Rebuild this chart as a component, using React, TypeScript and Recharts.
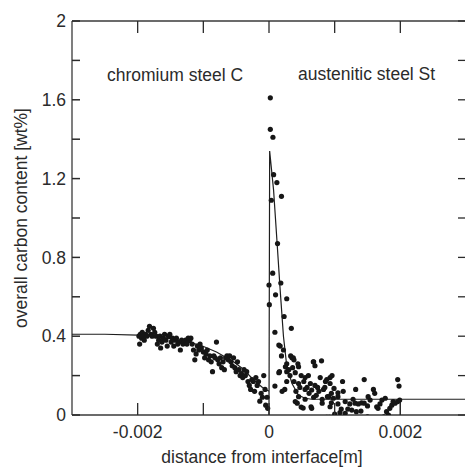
import { ScatterChart, Scatter, XAxis, YAxis, Customized } from "recharts";

const MM = 0.001;
const FONT = "'Liberation Sans', Arial, Helvetica, sans-serif";
const INK = "#2b2b2b";

const xTicks = [-0.002, -0.001, 0, 0.001, 0.002];
const xLabelled = [-0.002, 0, 0.002];
const yTicks = [0, 0.2, 0.4, 0.6, 0.8, 1, 1.2, 1.4, 1.6, 1.8, 2];
const yLabelled = [0, 0.4, 0.8, 1.2, 1.6, 2];

// measured points: distance from interface [mm], carbon [wt%]
const chromiumSide: [number, number][] = [
  [-1.98, 0.4], [-1.97, 0.36], [-1.96, 0.41], [-1.94, 0.39], [-1.93, 0.42],
  [-1.91, 0.4], [-1.9, 0.38], [-1.88, 0.41], [-1.86, 0.4], [-1.84, 0.43],
  [-1.82, 0.45], [-1.8, 0.41], [-1.78, 0.4], [-1.76, 0.44], [-1.74, 0.42],
  [-1.72, 0.4], [-1.7, 0.36], [-1.68, 0.38], [-1.66, 0.4], [-1.65, 0.34],
  [-1.63, 0.37], [-1.61, 0.39], [-1.59, 0.41], [-1.57, 0.38], [-1.55, 0.35],
  [-1.53, 0.4], [-1.51, 0.41], [-1.49, 0.37], [-1.47, 0.39], [-1.45, 0.35],
  [-1.43, 0.38], [-1.41, 0.39], [-1.39, 0.36], [-1.37, 0.37], [-1.35, 0.33],
  [-1.33, 0.38], [-1.31, 0.36], [-1.29, 0.37], [-1.27, 0.38], [-1.25, 0.36],
  [-1.23, 0.39], [-1.21, 0.38], [-1.19, 0.39], [-1.17, 0.36], [-1.15, 0.33],
  [-1.13, 0.28], [-1.11, 0.31], [-1.09, 0.35], [-1.07, 0.33], [-1.05, 0.36],
  [-1.03, 0.34], [-1.0, 0.32], [-0.98, 0.29], [-0.96, 0.31], [-0.94, 0.33],
  [-0.92, 0.28], [-0.9, 0.3], [-0.88, 0.27], [-0.86, 0.22], [-0.84, 0.3],
  [-0.82, 0.29], [-0.8, 0.37], [-0.78, 0.28], [-0.76, 0.26], [-0.74, 0.29],
  [-0.72, 0.24], [-0.7, 0.27], [-0.68, 0.23], [-0.66, 0.29], [-0.64, 0.3],
  [-0.62, 0.28], [-0.6, 0.3], [-0.58, 0.27], [-0.56, 0.25], [-0.54, 0.29],
  [-0.52, 0.24], [-0.5, 0.22], [-0.48, 0.27], [-0.46, 0.23], [-0.44, 0.2],
  [-0.42, 0.21], [-0.4, 0.19], [-0.38, 0.23], [-0.36, 0.2], [-0.34, 0.22],
  [-0.32, 0.17], [-0.3, 0.15], [-0.28, 0.13], [-0.26, 0.18], [-0.24, 0.17],
  [-0.22, 0.12], [-0.2, 0.19], [-0.18, 0.15], [-0.16, 0.17], [-0.14, 0.07],
  [-0.12, 0.11], [-0.1, 0.09], [-0.08, 0.2], [-0.06, 0.13], [-0.05, 0.05],
  [-0.03, 0.09], [-0.02, 0.034],
];

const austeniticSide: [number, number][] = [
  [0.02, 1.61], [0.02, 1.45], [0.06, 1.41], [0.07, 1.22], [0.12, 1.18],
  [0.035, 1.09], [0.19, 1.11], [0.13, 0.87], [0.056, 0.72], [0.0, 0.66],
  [0.18, 0.67], [0.1, 0.61], [0.27, 0.59], [0.005, 0.56], [0.23, 0.5],
  [0.09, 0.42], [0.34, 0.44], [0.15, 0.355], [0.22, 0.33], [0.19, 0.3],
  [0.35, 0.29], [0.38, 0.28], [0.27, 0.26], [0.44, 0.26], [0.45, 0.245],
  [0.68, 0.27], [0.7, 0.25], [0.8, 0.275], [0.15, 0.215], [0.27, 0.22],
  [0.32, 0.2], [0.4, 0.215], [0.49, 0.2], [0.55, 0.19], [0.6, 0.2],
  [0.27, 0.17], [0.38, 0.17], [0.45, 0.16], [0.53, 0.17], [0.63, 0.16],
  [0.7, 0.15], [0.78, 0.19], [0.86, 0.17], [0.93, 0.19], [0.09, 0.147],
  [0.2, 0.12], [0.24, 0.13], [0.41, 0.12], [0.55, 0.13], [0.65, 0.127],
  [0.76, 0.12], [0.83, 0.13], [0.45, 0.093], [0.55, 0.08], [0.68, 0.09],
  [0.81, 0.08], [0.91, 0.093], [0.43, 0.06], [0.49, 0.04], [0.64, 0.042],
  [0.81, 0.06], [0.93, 0.042], [0.96, 0.2], [0.88, 0.18], [0.93, 0.16],
  [0.85, 0.14], [0.99, 0.135], [1.12, 0.17], [1.13, 0.12], [1.05, 0.113],
  [0.95, 0.11], [0.89, 0.093], [0.98, 0.085], [1.05, 0.093], [0.95, 0.062],
  [1.05, 0.056], [1.16, 0.068], [1.23, 0.056], [1.28, 0.08], [1.31, 0.06],
  [1.41, 0.062], [1.36, 0.056], [1.45, 0.18], [1.26, 0.025], [1.33, 0.017],
  [1.08, 0.012], [1.0, 0.005], [1.16, 0.009], [1.45, 0.06], [1.5, 0.046],
  [1.54, 0.076], [1.59, 0.13], [1.61, 0.11], [1.64, 0.042], [1.66, 0.034],
  [1.72, 0.076], [1.69, 0.056], [1.77, 0.085], [1.79, 0.017], [1.82, 0.0],
  [1.84, 0.034], [1.87, 0.05], [1.89, 0.068], [1.92, 0.06], [1.96, 0.068],
  [1.96, 0.18], [1.98, 0.147], [1.99, 0.076], [1.32, 0.13], [1.51, 0.093],
  [0.16, 0.22], [0.17, 0.35], [0.25, 0.245], [0.33, 0.3], [0.37, 0.29],
  [0.4, 0.068], [0.52, 0.035], [0.65, 0.034], [0.675, 0.27], [0.61, 0.11],
  [0.72, 0.1], [0.58, 0.14], [0.74, 0.14], [1.64, -0.045], [0.88, -0.012],
  [0.92, -0.012], [1.2, 0.03], [1.5, -0.01], [1.75, -0.01], [1.4, 0.02],
  [1.1, 0.03], [0.47, 0.14], [0.36, 0.24], [0.3, 0.23],
];

// fitted model curve: distance [mm], carbon [wt%]
const modelCurve: [number, number][] = [
  [-3, 0.41], [-2.5, 0.41], [-2.0, 0.405], [-1.8, 0.4], [-1.56, 0.39],
  [-1.3, 0.375], [-1.05, 0.355], [-0.8, 0.32], [-0.54, 0.27], [-0.4, 0.235],
  [-0.24, 0.18], [-0.1, 0.14], [0, 0.12], [0, 0], [0.01, 1.34],
  [0.07, 1.14], [0.12, 0.89], [0.17, 0.635], [0.22, 0.4], [0.27, 0.25],
  [0.35, 0.16], [0.45, 0.1], [0.55, 0.085], [0.65, 0.08], [2, 0.08],
  [2, 0], [2, 0.08], [3, 0.08],
];

const toRows = (pts: [number, number][]) =>
  pts.map(([d, c]) => ({ x: d * MM, y: c }));

function BottomTick({ x, y, payload }: any) {
  const v = payload.value;
  return (
    <g>
      <line x1={x} x2={x} y1={y} y2={y - 12} stroke={INK} strokeWidth={1.3} />
      {xLabelled.includes(v) && (
        <text x={x} y={y + 23} textAnchor="middle" fontSize={17.5} fontFamily={FONT} fill={INK}>
          {v === 0 ? "0" : v.toFixed(3)}
        </text>
      )}
    </g>
  );
}

function TopTick({ x, y }: any) {
  return <line x1={x} x2={x} y1={y} y2={y + 12} stroke={INK} strokeWidth={1.3} />;
}

function RightTick({ x, y }: any) {
  return <line x1={x} x2={x - 8} y1={y} y2={y} stroke={INK} strokeWidth={1.3} />;
}

function Labels() {
  return (
    <g fontFamily={FONT} fontSize={17.5} fill={INK}>
      <text x={107} y={81}>chromium steel C</text>
      <text x={298} y={80}>austenitic steel St</text>
      <text x={262} y={463} textAnchor="middle">distance from interface[m]</text>
      <text transform="translate(26.5,218) rotate(-90)" textAnchor="middle">
        overall carbon content [wt%]
      </text>
    </g>
  );
}

const Dot = (props: any) => <circle cx={props.cx} cy={props.cy} r={2.6} fill="#161616" />;
const NoDot = () => <g />;

export default function App() {
  const frame = { stroke: "#3a3a3a", strokeWidth: 1.3 };
  return (
    <div style={{ position: "absolute", left: 0, top: 0, width: 465, height: 470, overflow: "hidden", background: "#fff" }}>
      <ScatterChart width={470} height={470} margin={{ top: 20, right: 3, bottom: 0, left: 0 }}>
        <XAxis
          type="number"
          dataKey="x"
          domain={[-0.003, 0.003]}
          allowDataOverflow
          ticks={xTicks}
          interval={0}
          height={55}
          tickSize={0}
          tickMargin={0}
          tickLine={false}
          axisLine={frame}
          tick={<BottomTick />}
        />
        <XAxis
          xAxisId="top"
          orientation="top"
          type="number"
          dataKey="x"
          domain={[-0.003, 0.003]}
          allowDataOverflow
          ticks={xTicks}
          interval={0}
          height={1}
          tickSize={0}
          tickMargin={0}
          tickLine={false}
          axisLine={frame}
          tick={<TopTick />}
        />
        <YAxis
          type="number"
          dataKey="y"
          domain={[0, 2]}
          allowDataOverflow
          ticks={yTicks}
          interval={0}
          width={72}
          tickSize={-8}
          tickMargin={14}
          tickLine={{ stroke: INK, strokeWidth: 1.5 }}
          axisLine={frame}
          tick={{ fontSize: 17.5, fontFamily: FONT, fill: INK }}
          tickFormatter={(v: number) => (yLabelled.includes(v) ? String(v) : "")}
        />
        <YAxis
          yAxisId="right"
          orientation="right"
          type="number"
          dataKey="y"
          domain={[0, 2]}
          allowDataOverflow
          ticks={yTicks}
          interval={0}
          width={1}
          tickSize={0}
          tickMargin={0}
          tickLine={false}
          axisLine={frame}
          tick={<RightTick />}
        />
        {/* model curve drawn on the top/right axes so they get rendered */}
        <Scatter
          xAxisId="top"
          yAxisId="right"
          data={toRows(modelCurve)}
          line={{ stroke: "#1e1e1e", strokeWidth: 1.2 }}
          shape={NoDot}
          isAnimationActive={false}
        />
        <Scatter data={toRows(chromiumSide)} shape={Dot} isAnimationActive={false} />
        <Scatter data={toRows(austeniticSide)} shape={Dot} isAnimationActive={false} />
        <Customized component={Labels} />
      </ScatterChart>
    </div>
  );
}
